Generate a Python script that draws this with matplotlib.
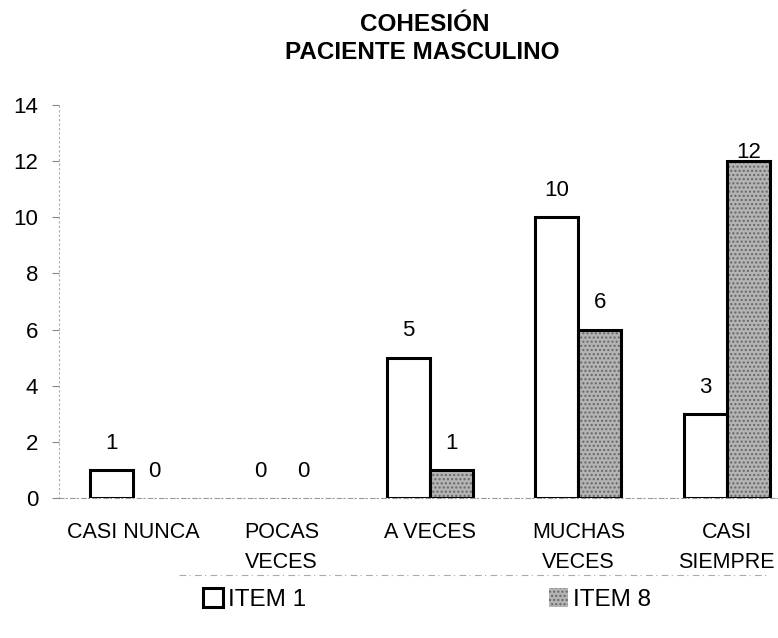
import numpy as np
import matplotlib
matplotlib.use("Agg")
import matplotlib.pyplot as plt
from matplotlib.lines import Line2D

categorias = ["CASI NUNCA", "POCAS\nVECES", "A VECES", "MUCHAS\nVECES", "CASI\nSIEMPRE"]
item1 = [1, 0, 5, 10, 3]
item8 = [0, 0, 1, 6, 12]
series = ["ITEM 1", "ITEM 8"]

plt.rcParams['font.family'] = ['Liberation Sans', 'DejaVu Sans']

fig = plt.figure(figsize=(7.78, 6.38), dpi=100)
ax = fig.add_axes([0.0758, 0.2194, 0.9242, 0.616])

x = np.arange(len(categorias))
w = 0.29
b1 = ax.bar(x - w/2, item1, w, color="white", edgecolor="black", linewidth=2.2, label=series[0])
b2 = ax.bar(x + w/2, item8, w, color="#b4b4b4", edgecolor="black", linewidth=2.2,
            hatch="....", label=series[1])
for p in b2:
    p._hatch_color = (0.4, 0.4, 0.4, 1)

# etiquetas de valor; las barras en cero no llevan borde
for barras, vals in ((b1, item1), (b2, item8)):
    for p, v in zip(barras, vals):
        if v == 0:
            p.set_linewidth(0)
        dy = 0.95 if v < 12 else 0.3
        ax.text(p.get_x() + p.get_width()/2, v + dy, str(v), ha="center", va="center",
                fontsize=16, clip_on=False)

ax.set_xlim(-0.5, 4.345)
ax.set_ylim(0, 14)
ax.set_yticks(range(0, 15, 2))
ax.set_xticks(x)
ax.set_xticklabels(categorias, fontsize=15.5, linespacing=1.6)
ax.tick_params(axis="x", length=0, pad=17)
ax.tick_params(axis="y", length=5, width=0.8, color="#888888", labelsize=16, pad=10)

for s in ("top", "right"):
    ax.spines[s].set_visible(False)
ax.spines["left"].set_color("#aaaaaa")
ax.spines["left"].set_linestyle((0, (1, 3)))
ax.spines["left"].set_linewidth(0.8)
ax.spines["bottom"].set_color("#999999")
ax.spines["bottom"].set_linestyle((0, (4, 2, 1, 3)))
ax.spines["bottom"].set_linewidth(0.8)

fig.text(0.546, 0.962, "COHESIÓN", ha="center", va="center", fontsize=17.5, fontweight="bold")
fig.text(0.543, 0.918, "PACIENTE MASCULINO", ha="center", va="center", fontsize=17.5, fontweight="bold")

leg = fig.legend(handles=[b1, b2], labels=series, loc="center", bbox_to_anchor=(0.549, 0.06),
                 ncol=2, frameon=False, fontsize=17.5, handlelength=0.8, handleheight=0.8,
                 handletextpad=0.2, columnspacing=10.0)
fig.add_artist(Line2D([0.23, 0.99], [0.099, 0.099], transform=fig.transFigure,
                      color="#aaaaaa", linewidth=0.8, linestyle=(0, (6, 3, 1, 4))))

fig.savefig("out.png", dpi=100)
